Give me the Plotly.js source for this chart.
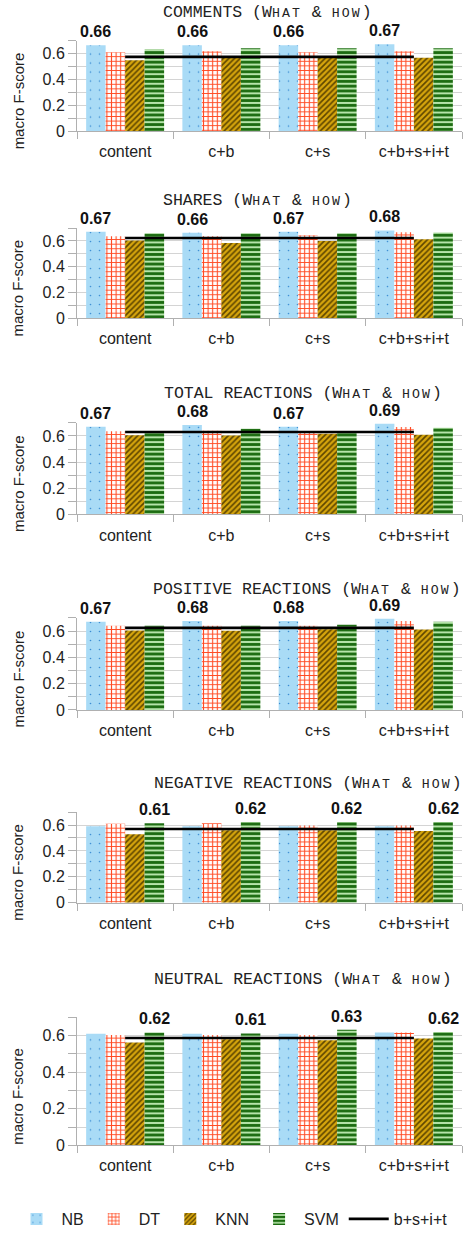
<!DOCTYPE html>
<html><head><meta charset="utf-8">
<script src="https://cdn.plot.ly/plotly-3.0.1.min.js"></script>
<style>body{margin:0;padding:0;background:#fff}#chart{width:464px;height:1236px}</style>
</head><body><div id="chart"></div>
<script>
// ---- data ----
const categories = ['content', 'c+b', 'c+s', 'c+b+s+i+t'];
const panelNames = ['COMMENTS', 'SHARES', 'TOTAL REACTIONS', 'POSITIVE REACTIONS', 'NEGATIVE REACTIONS', 'NEUTRAL REACTIONS'];
const seriesNames = ['NB', 'DT', 'KNN', 'SVM'];
const baselineName = 'b+s+i+t';
// one row per panel, one value per category
const NB = [
  [0.664, 0.664, 0.664, 0.672],
  [0.672, 0.664, 0.672, 0.682],
  [0.671, 0.684, 0.671, 0.694],
  [0.671, 0.678, 0.678, 0.694],
  [0.590, 0.590, 0.590, 0.590],
  [0.611, 0.610, 0.611, 0.618]
];
const DT = [
  [0.610, 0.618, 0.610, 0.618],
  [0.636, 0.636, 0.644, 0.667],
  [0.636, 0.641, 0.630, 0.669],
  [0.641, 0.641, 0.641, 0.678],
  [0.610, 0.613, 0.597, 0.597],
  [0.604, 0.604, 0.604, 0.617]
];
const KNN = [
  [0.549, 0.574, 0.574, 0.567],
  [0.603, 0.585, 0.600, 0.613],
  [0.605, 0.603, 0.618, 0.610],
  [0.605, 0.603, 0.615, 0.613],
  [0.528, 0.559, 0.559, 0.554],
  [0.562, 0.580, 0.575, 0.584]
];
const SVM = [
  [0.633, 0.641, 0.641, 0.641],
  [0.660, 0.660, 0.660, 0.666],
  [0.638, 0.656, 0.636, 0.664],
  [0.641, 0.641, 0.648, 0.671],
  [0.614, 0.624, 0.624, 0.624],
  [0.618, 0.612, 0.633, 0.620]
];
const BASELINE = [0.574, 0.623, 0.631, 0.625, 0.569, 0.587];

// ---- layout geometry (pixels) ----
const W = 464, H = 1236;
const plotLeft = 77, plotRight = 462;
const panelTop = [40.7, 228.8, 424.3, 620, 814.7, 1020.7];
const panelBottom = [131.7, 319.3, 516, 712.3, 905.7, 1149];
const titleLeft = [161, 161, 162, 151, 152, 152];
const titleY = [13, 201, 395, 591.5, 786, 983];
const bargap = 0.19;

const patterns = [
  {shape: '.', bgcolor: '#a9dbf6', fgcolor: '#3b8dd3', size: 9, solidity: 0.025},
  {shape: '+', bgcolor: '#ffffff', fgcolor: '#ff4b24', size: 4.6, solidity: 0.42},
  {shape: '/', bgcolor: '#d6a50c', fgcolor: '#5e4600', size: 4, solidity: 0.4},
  {shape: '-', bgcolor: '#b6e4aa', fgcolor: '#1b6b10', size: 4.8, solidity: 0.58}
];
const seriesData = [NB, DT, KNN, SVM];

const gridColor = '#d4d4d4';
const axisColor = '#b0b0b0';
const sans = 'Liberation Sans, Arial, sans-serif';

function titleText(name) {
  const sc = 'font-size:13.2px;letter-spacing:2.1px';
  return name + ' (W<span style="' + sc + '">HAT</span> &amp; <span style="' + sc + '">HOW</span>)';
}

const traces = [];
const annotations = [];
const layout = {
  width: W, height: H,
  margin: {l: 0, r: 0, t: 0, b: 0},
  paper_bgcolor: '#ffffff', plot_bgcolor: '#ffffff',
  barmode: 'group', bargap: bargap, bargroupgap: 0,
  font: {family: sans, size: 16, color: '#222'},
  showlegend: true,
  legend: {
    orientation: 'h', x: 0.5, xanchor: 'center', y: 1 - 1223 / H, yanchor: 'middle',
    font: {family: sans, size: 16, color: '#222'}, traceorder: 'normal',
    itemwidth: 40, tracegroupgap: 0
  },
  annotations: annotations
};

const catPx = (plotRight - plotLeft) / categories.length;
const barPx = catPx * (1 - bargap) / seriesNames.length;

for (let p = 0; p < panelNames.length; p++) {
  const ax = p === 0 ? '' : String(p + 1);
  const xa = 'x' + ax, ya = 'y' + ax;
  const domY = [1 - panelBottom[p] / H, 1 - panelTop[p] / H];
  layout['xaxis' + ax] = {
    domain: [plotLeft / W, plotRight / W], anchor: ya,
    type: 'category', categoryorder: 'array', categoryarray: categories,
    tickson: 'boundaries', ticks: 'outside', ticklen: 7, tickcolor: axisColor,
    showline: true, linecolor: axisColor, linewidth: 1, showgrid: false, zeroline: false,
    tickfont: {family: sans, size: 16, color: '#222'}, ticklabelstandoff: 6, fixedrange: true
  };
  layout['yaxis' + ax] = {
    domain: domY, anchor: xa, range: [0, 0.7],
    tick0: 0, dtick: 0.2, ticks: 'outside', ticklen: 8, tickcolor: axisColor,
    showgrid: true, gridcolor: gridColor, showline: true, linecolor: axisColor,
    zeroline: false, tickfont: {family: sans, size: 16, color: '#222'},
    minor: {dtick: 0.1, tick0: 0, ticks: 'outside', ticklen: 8, tickcolor: axisColor, showgrid: true, gridcolor: gridColor},
    fixedrange: true
  };
  for (let s = 0; s < seriesNames.length; s++) {
    traces.push({
      type: 'bar', name: seriesNames[s], x: categories, y: seriesData[s][p],
      xaxis: xa, yaxis: ya, legendgroup: seriesNames[s], showlegend: p === 0,
      marker: {color: patterns[s].bgcolor, line: {width: 0}, pattern: Object.assign({fillmode: 'replace'}, patterns[s])},
      hoverinfo: 'skip'
    });
  }
  traces.push({
    type: 'scatter', mode: 'lines', name: baselineName, x: categories,
    y: categories.map(() => BASELINE[p]), xaxis: xa, yaxis: ya,
    line: {color: '#000000', width: 2.6}, legendgroup: 'base', showlegend: p === 0, hoverinfo: 'skip'
  });
  // max value labels
  for (let c = 0; c < categories.length; c++) {
    let best = 0;
    for (let s = 1; s < seriesNames.length; s++) {
      if (seriesData[s][p][c] > seriesData[best][p][c]) best = s;
    }
    const v = seriesData[best][p][c];
    annotations.push({
      xref: xa, yref: ya, x: categories[c], y: v, text: '<b>' + v.toFixed(2) + '</b>',
      showarrow: false, xanchor: 'center', yanchor: 'bottom',
      xshift: (best - 1.5) * barPx, yshift: 3,
      font: {family: sans, size: 16, color: '#111'}
    });
  }
  // panel title
  annotations.push({
    xref: 'paper', yref: 'paper', x: titleLeft[p] / W, y: 1 - titleY[p] / H,
    xanchor: 'left', yanchor: 'middle', showarrow: false, text: titleText(panelNames[p]),
    font: {family: 'Liberation Mono, Courier New, monospace', size: 16.5, color: '#222'}
  });
  // y axis title
  annotations.push({
    xref: 'paper', yref: 'paper', x: 18 / W, xanchor: 'center',
    y: 1 - ((panelTop[p] + panelBottom[p]) / 2 + 15.5) / H, yanchor: 'middle',
    showarrow: false, textangle: -90, text: 'macro F-score',
    font: {family: sans, size: 15, color: '#222'}
  });
}

Plotly.newPlot('chart', traces, layout, {displayModeBar: false, staticPlot: true});
</script>
</body></html>
